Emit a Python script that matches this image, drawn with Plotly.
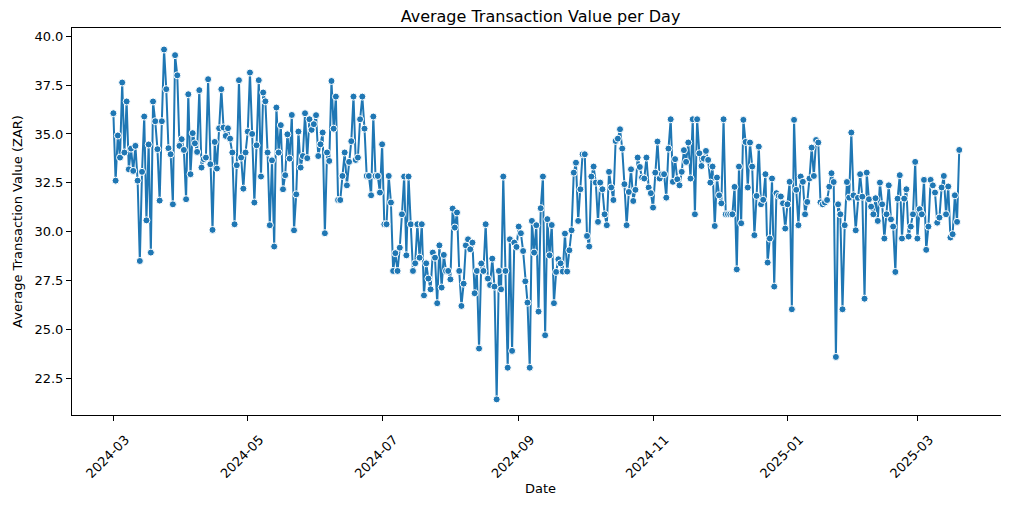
import pandas as pd
import plotly.graph_objs as go

# daily average transaction value
start_date = "2024-03-01"

mar_apr = [36.06, 32.61, 34.92, 33.79, 37.63, 34.05, 36.66, 33.19, 34.25, 33.11,
           34.39, 32.61, 28.5, 33.06, 35.89, 30.58, 34.46, 28.93, 36.66, 35.65,
           34.22, 31.59, 35.65, 39.32, 37.29, 34.27, 33.96, 31.4, 39.03, 38.0,
           34.39, 34.73,
           34.18, 31.66, 37.03, 32.94, 35.04, 34.52, 34.08, 37.24, 33.28, 33.71,
           33.79, 37.8, 33.45, 30.09, 34.59, 33.23, 35.29, 37.29, 35.33, 34.9,
           35.29, 34.76, 34.05, 30.38, 33.4, 37.75, 33.79, 32.2, 34.05, 35.12, 38.14]

may_jun = [35.0, 31.49, 34.42, 37.75, 32.82, 37.12, 36.67, 34.05, 30.33, 33.65,
           29.24, 36.35, 34.05, 35.45, 32.17, 32.89, 34.98, 33.74, 35.97, 30.07,
           31.91, 35.12, 33.28, 33.87, 36.06, 33.76, 35.75, 35.21, 35.5, 35.96, 33.87,
           34.47, 35.07, 29.92, 34.05, 33.62, 37.71, 35.27, 36.91, 31.62, 31.62,
           32.85, 34.05, 32.37, 33.57, 34.63, 36.91, 33.67, 33.79, 35.75, 36.91,
           35.27, 32.85, 32.85, 31.86, 35.89, 32.85, 32.85, 32.0, 34.47, 30.38,
           30.38, 32.85]

jul_aug = [31.49, 27.99, 28.9, 27.99, 29.18, 30.89, 32.82, 28.79, 32.82, 30.38,
           27.99, 28.38, 30.38, 28.67, 30.38, 26.74, 28.38, 27.6, 27.05, 28.93,
           28.67, 26.34, 29.3, 27.14, 28.81, 27.99, 27.99, 27.56, 31.18, 30.21,
           30.98, 27.99, 26.2,
           27.34, 29.3, 29.61, 29.1, 29.44, 26.85, 27.99, 24.02, 28.37, 27.99,
           30.38, 27.6, 27.27, 28.62, 27.19, 21.42, 27.99, 27.05, 32.82, 27.99,
           23.04, 29.61, 23.9, 29.44, 29.22, 30.26, 29.92, 29.01, 27.46, 26.37,
           23.04, 30.55]

sep_oct = [28.93, 30.33, 25.91, 31.2, 32.82, 24.7, 30.64, 28.79, 30.34, 26.34,
           27.94, 28.59, 28.38, 27.96, 29.9, 27.96, 29.05, 30.07, 33.02, 33.53,
           30.55, 32.17, 33.96, 33.96, 29.78, 29.24, 32.82, 33.33, 32.51, 30.5,
           32.51, 32.17,
           30.89, 30.33, 33.06, 32.26, 31.62, 34.64, 34.76, 35.24, 34.25, 32.43,
           30.33, 32.03, 33.19, 31.57, 32.14, 33.79, 33.31, 32.77, 32.72, 33.79,
           32.26, 31.97, 31.23, 33.02, 34.61, 32.72, 32.94, 32.94, 31.74, 34.25, 35.75]

nov_dec = [32.55, 33.71, 32.68, 32.37, 33.06, 34.17, 33.57, 34.56, 32.72, 35.75,
           30.89, 35.75, 34.01, 33.36, 33.74, 34.13, 33.67, 32.51, 33.33, 30.29,
           32.77, 31.86, 31.45, 35.75, 30.89, 30.89, 30.89, 30.89, 32.29, 28.07,
           33.33, 30.43,
           35.72, 34.59, 32.26, 34.56, 33.33, 29.82, 31.83, 34.35, 31.4, 31.63,
           32.94, 28.42, 29.65, 32.72, 27.19, 31.97, 31.83, 31.8, 31.45, 30.16,
           31.4, 32.55, 26.03, 35.72, 32.14, 30.33, 32.82, 32.55, 30.89, 31.52,
           32.72, 34.3]

jan_mar = [32.85, 34.69, 34.56, 31.5, 31.4, 31.49, 31.62, 32.3, 32.99, 32.54,
           23.59, 31.4, 30.89, 26.03, 30.33, 32.54, 31.74, 35.07, 31.86, 30.07,
           31.73, 32.94, 31.79, 26.57, 33.02, 31.66, 31.28, 30.89, 31.71, 30.55,
           32.51, 31.4,
           29.65, 30.89, 32.37, 30.63, 30.26, 27.94, 31.69, 32.89, 29.65, 31.69,
           32.17, 29.75, 30.26, 30.89, 33.57, 29.65, 31.15, 30.89, 32.65, 29.07,
           30.26, 32.65, 32.37, 32.0, 30.46, 30.72, 32.26, 32.85, 30.89, 32.31,
           29.7, 29.87, 31.86, 30.5, 34.18]

y_ticks = [22.5, 25.0, 27.5, 30.0, 32.5, 35.0, 37.5, 40.0]

values = mar_apr + may_jun + jul_aug + sep_oct + nov_dec + jan_mar
dates = pd.date_range(start_date, periods=len(values), freq="D")

font = "DejaVu Sans"

fig = go.Figure()
fig.add_trace(go.Scatter(
    x=dates,
    y=values,
    mode="lines+markers",
    line=dict(color="#1f77b4", width=2),
    marker=dict(color="#1f77b4", size=7, line=dict(color="white", width=1)),
    showlegend=False,
))

# the page adds an 8px body margin, so the figure is 8px smaller than the window
fig.update_layout(
    width=1001, height=499,
    margin=dict(l=64, r=0, t=20, b=92),
    paper_bgcolor="white", plot_bgcolor="white",
    font=dict(family=font, size=13, color="black"),
    title=dict(text="Average Transaction Value per Day", x=0.5, xref="paper",
               xanchor="center", y=0.983, yanchor="middle",
               font=dict(size=16, color="black")),
)

fig.update_xaxes(
    range=["2024-02-11 05:00", "2025-04-11 14:00"],
    tick0="2024-03-01", dtick="M2", tickformat="%Y-%m", tickangle=-45,
    ticklabelshift=12, ticklabelstandoff=6,
    ticks="outside", ticklen=5, tickcolor="black",
    showline=True, linecolor="black", linewidth=1, mirror=True,
    showgrid=False, zeroline=False, automargin=False,
    title=dict(text="Date", font=dict(size=13), standoff=3),
)
fig.update_yaxes(
    range=[20.62, 40.42],
    tickvals=y_ticks, ticktext=[f"{v:.1f}" for v in y_ticks],
    ticks="outside", ticklen=5, tickcolor="black",
    showline=True, linecolor="black", linewidth=1, mirror=True,
    showgrid=False, zeroline=False, automargin=False,
    title=dict(text="Average Transaction Value (ZAR)", font=dict(size=13), standoff=8),
)

fig.write_html("out.html")
